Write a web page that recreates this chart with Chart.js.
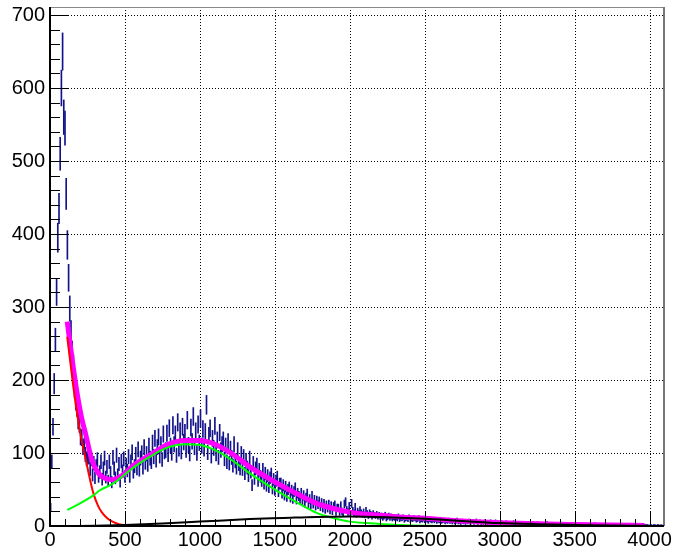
<!DOCTYPE html>
<html>
<head>
<meta charset="utf-8">
<script src="https://cdn.jsdelivr.net/npm/chart.js@4.4.1/dist/chart.umd.min.js"></script>
<style>
  html, body { margin: 0; padding: 0; background: #fff; }
  #wrap { width: 675px; height: 553px; position: relative; }
</style>
</head>
<body>
<div id="wrap"><canvas id="spectrum"></canvas></div>
<script>
// Histogram: 512 bins of 8 channels each (0 - 4096)
const binWidth = 8;
const counts = [
  26, 88, 136, 195, 255, 320, 395, 435, 510, 600, 650, 560, 545, 455, 385, 340,
  298, 265, 238, 220, 190, 172, 163, 145, 140, 122, 121, 108, 110, 98, 92, 94,
  95, 78, 92, 70, 86, 66, 82, 91, 68, 74, 88, 64, 79, 93, 67, 81,
  62, 88, 73, 60, 94, 79, 66, 97, 70, 85, 61, 89, 75, 92, 68, 84,
  76, 95, 68, 88, 101, 74, 82, 98, 79, 105, 77, 93, 100, 80, 108, 87,
  99, 84, 110, 93, 88, 114, 95, 120, 90, 108, 122, 96, 112, 91, 126, 102,
  104, 127, 98, 134, 110, 100, 138, 112, 126, 97, 142, 106, 130, 102, 136, 115,
  128, 104, 145, 111, 99, 135, 116, 150, 108, 130, 100, 139, 114, 147, 110, 133,
  106, 129, 166, 101, 124, 134, 96, 120, 107, 137, 99, 118, 94, 128, 104, 112,
  118, 92, 110, 88, 116, 86, 106, 94, 83, 112, 89, 80, 104, 85, 79, 99,
  78, 95, 72, 90, 80, 69, 93, 74, 56, 86, 65, 79, 84, 62, 77, 68,
  62, 77, 58, 72, 55, 69, 53, 66, 71, 51, 64, 49, 62, 67, 47, 58,
  58, 45, 56, 42, 54, 40, 50, 53, 39, 49, 37, 47, 52, 36, 45, 41,
  36, 45, 34, 42, 31, 39, 44, 30, 37, 29, 41, 30, 36, 27, 35, 29,
  34, 26, 32, 24, 31, 22, 29, 24, 30, 21, 28, 20, 27, 29, 19, 25,
  25, 19, 28, 20, 18, 30, 33, 22, 19, 27, 17, 31, 21, 18, 26, 16,
  20, 17, 22, 18, 16, 19, 15, 21, 17, 14, 18, 16, 13, 17, 15, 14,
  16, 13, 15, 12, 14, 11, 13, 15, 10, 12, 14, 11, 13, 10, 12, 11,
  12, 10, 13, 9, 11, 10, 12, 8, 10, 11, 9, 12, 8, 10, 9, 11,
  10, 8, 9, 11, 7, 9, 8, 10, 7, 9, 8, 6, 9, 8, 7, 9,
  7, 9, 6, 8, 7, 9, 6, 7, 8, 5, 7, 6, 8, 6, 7, 5,
  7, 5, 6, 8, 5, 6, 4, 7, 5, 6, 4, 6, 5, 7, 4, 5,
  6, 4, 5, 7, 4, 5, 6, 3, 5, 4, 6, 5, 3, 5, 4, 6,
  4, 5, 3, 6, 4, 5, 3, 4, 5, 3, 4, 2, 5, 4, 3, 4,
  3, 4, 5, 3, 2, 4, 3, 4, 2, 3, 4, 3, 2, 4, 3, 2,
  3, 2, 4, 3, 2, 3, 4, 2, 3, 1, 3, 2, 3, 2, 4, 2,
  2, 3, 1, 2, 3, 2, 1, 3, 2, 2, 1, 3, 2, 1, 2, 3,
  2, 1, 2, 3, 1, 2, 2, 1, 3, 2, 1, 2, 1, 2, 1, 2,
  1, 2, 1, 2, 2, 1, 3, 1, 2, 1, 1, 2, 1, 2, 1, 1,
  2, 1, 1, 2, 1, 1, 2, 1, 1, 2, 1, 1, 1, 2, 1, 1,
  1, 1, 2, 1, 1, 1, 1, 2, 1, 1, 1, 1, 2, 1, 1, 1,
  1, 1, 1, 0, 1, 1, 0, 1, 1, 0, 1, 1, 0, 1, 0, 1
];

// fit curves, points (channel -> value)
const totalX = [115, 150, 180, 210, 240, 278, 320, 370, 420, 480, 556, 667, 778, 900, 1000, 1111, 1222, 1333, 1444, 1556, 1667, 1778, 1889, 2000, 2111, 2222, 2333, 2500, 2778, 3000, 3250, 3500, 3750, 3967];
const totalY = [280, 225, 183, 149, 124, 91, 73, 65, 63.5, 69, 83, 97, 111, 117, 117, 111, 98, 81, 67, 54, 42, 31, 24, 19, 16, 14.5, 12.5, 10.5, 6.5, 4.5, 3, 2, 1.2, 0.8];

const expoX = [115, 150, 180, 210, 240, 260, 289, 320, 345, 380, 420, 460, 500, 550, 600, 3967];
const expoY = [259, 200, 155, 118, 90, 70, 45, 28, 19, 11, 5.5, 2.5, 1, 0.3, 0, 0];

const gausX = [115, 200, 289, 333, 420, 556, 667, 778, 900, 1000, 1111, 1222, 1333, 1444, 1556, 1667, 1778, 1889, 2000, 2111, 2222, 2333, 2500, 2750, 3967];
const gausY = [22, 31, 42, 49, 58, 80, 95, 107, 112, 111, 103, 89, 72, 57, 43, 30, 18, 11, 6, 4, 2.5, 1.5, 0.5, 0, 0];

const bkgX = [115, 300, 500, 750, 1000, 1333, 1556, 1778, 2000, 2250, 2500, 2667, 2778, 3000, 3250, 3500, 3750, 3967];
const bkgY = [0, 0.5, 1.5, 3.5, 6, 9.5, 11, 12.5, 13, 12, 10, 8, 6.5, 4, 2.5, 1.5, 0.7, 0.2];

const xTicks = [0, 500, 1000, 1500, 2000, 2500, 3000, 3500, 4000];
const yTicks = [0, 100, 200, 300, 400, 500, 600, 700];
const xMinorStep = 100;
const yMinorStep = 20;

function pts(xs, ys) {
  return xs.map((x, i) => ({ x: x, y: ys[i] }));
}

// error bars: value +- sqrt(value)
const errorBars = counts.map((c, i) => {
  const e = Math.sqrt(c);
  return { x: i * binWidth + binWidth / 2, y: [c - e, c + e] };
});

// ROOT-like frame: dotted grid, axes, inward ticks
const rootFrame = {
  id: 'rootFrame',
  beforeDatasetsDraw(chart) {
    const { ctx, chartArea: a, scales: { x, y } } = chart;
    ctx.save();
    ctx.strokeStyle = '#000';
    ctx.lineWidth = 1;
    ctx.setLineDash([1, 2]);
    ctx.beginPath();
    xTicks.forEach(v => {
      if (v === 0) return;
      const px = Math.round(x.getPixelForValue(v)) + 0.5;
      ctx.moveTo(px, a.top);
      ctx.lineTo(px, a.bottom);
    });
    yTicks.forEach(v => {
      if (v === 0) return;
      const py = Math.round(y.getPixelForValue(v)) + 0.5;
      ctx.moveTo(a.left, py);
      ctx.lineTo(a.right, py);
    });
    ctx.stroke();
    ctx.restore();
  },
  afterDatasetsDraw(chart) {
    const { ctx, chartArea: a, scales: { x, y } } = chart;
    ctx.save();
    // top / right frame
    ctx.strokeStyle = '#888';
    ctx.lineWidth = 1;
    ctx.beginPath();
    ctx.moveTo(a.left, a.top + 0.5);
    ctx.lineTo(a.right, a.top + 0.5);
    ctx.stroke();
    ctx.lineWidth = 2;
    ctx.strokeStyle = '#777';
    ctx.beginPath();
    ctx.moveTo(a.right, a.top);
    ctx.lineTo(a.right, a.bottom);
    ctx.stroke();

    // axes
    ctx.strokeStyle = '#000';
    ctx.lineWidth = 2;
    ctx.beginPath();
    ctx.moveTo(a.left, a.top);
    ctx.lineTo(a.left, a.bottom);
    ctx.lineTo(a.right, a.bottom);
    ctx.stroke();

    // ticks
    ctx.lineWidth = 1;
    ctx.beginPath();
    for (let v = 0; v <= y.max; v += yMinorStep) {
      const py = Math.round(y.getPixelForValue(v)) + 0.5;
      const len = v % 100 === 0 ? 18 : 10;
      ctx.moveTo(a.left, py);
      ctx.lineTo(a.left + len, py);
    }
    for (let v = 0; v <= x.max; v += xMinorStep) {
      const px = Math.round(x.getPixelForValue(v)) + 0.5;
      const len = v % 500 === 0 ? 15 : 7;
      ctx.moveTo(px, a.bottom);
      ctx.lineTo(px, a.bottom - len);
    }
    ctx.stroke();
    ctx.restore();
  }
};

const labelFont = { family: '"Liberation Sans", Arial, Helvetica, sans-serif', size: 20 };

new Chart(document.getElementById('spectrum'), {
  type: 'bar',
  data: {
    datasets: [{
      type: 'line',
      data: pts(bkgX, bkgY),
      borderColor: '#000000',
      borderWidth: 2,
      pointRadius: 0,
      cubicInterpolationMode: 'monotone',
      order: 1
    }, {
      type: 'line',
      data: pts(gausX, gausY),
      borderColor: '#00ff00',
      borderWidth: 2,
      pointRadius: 0,
      cubicInterpolationMode: 'monotone',
      order: 2
    }, {
      type: 'line',
      data: pts(expoX, expoY),
      borderColor: '#ff0000',
      borderWidth: 2,
      pointRadius: 0,
      cubicInterpolationMode: 'monotone',
      order: 3
    }, {
      type: 'line',
      data: pts(totalX, totalY),
      borderColor: '#ff00ff',
      borderWidth: 5,
      pointRadius: 0,
      cubicInterpolationMode: 'monotone',
      order: 4
    }, {
      type: 'bar',
      data: errorBars,
      backgroundColor: '#12128c',
      borderWidth: 0,
      barThickness: 1,
      grouped: false,
      order: 5
    }]
  },
  options: {
    responsive: true,
    maintainAspectRatio: false,
    animation: false,
    layout: { padding: { left: 0, top: 7, right: 11, bottom: 0 } },
    plugins: {
      legend: { display: false },
      tooltip: { enabled: false }
    },
    scales: {
      x: {
        type: 'linear',
        min: 0,
        max: 4096,
        offset: false,
        grid: { display: false, drawTicks: false },
        border: { display: false },
        ticks: { color: '#000', font: labelFont, padding: 2, maxRotation: 0, callback: v => String(v) },
        afterBuildTicks: s => { s.ticks = xTicks.map(v => ({ value: v })); },
        afterFit: s => { s.height = 27; s.paddingLeft = 0; s.paddingRight = 0; }
      },
      y: {
        type: 'linear',
        min: 0,
        max: 711,
        grid: { display: false, drawTicks: false },
        border: { display: false },
        ticks: { color: '#000', font: labelFont, padding: 5, callback: v => String(v) },
        afterBuildTicks: s => { s.ticks = yTicks.map(v => ({ value: v })); },
        afterFit: s => { s.width = 50; s.paddingTop = 0; s.paddingBottom = 0; }
      }
    }
  },
  plugins: [rootFrame]
});
</script>
</body>
</html>
